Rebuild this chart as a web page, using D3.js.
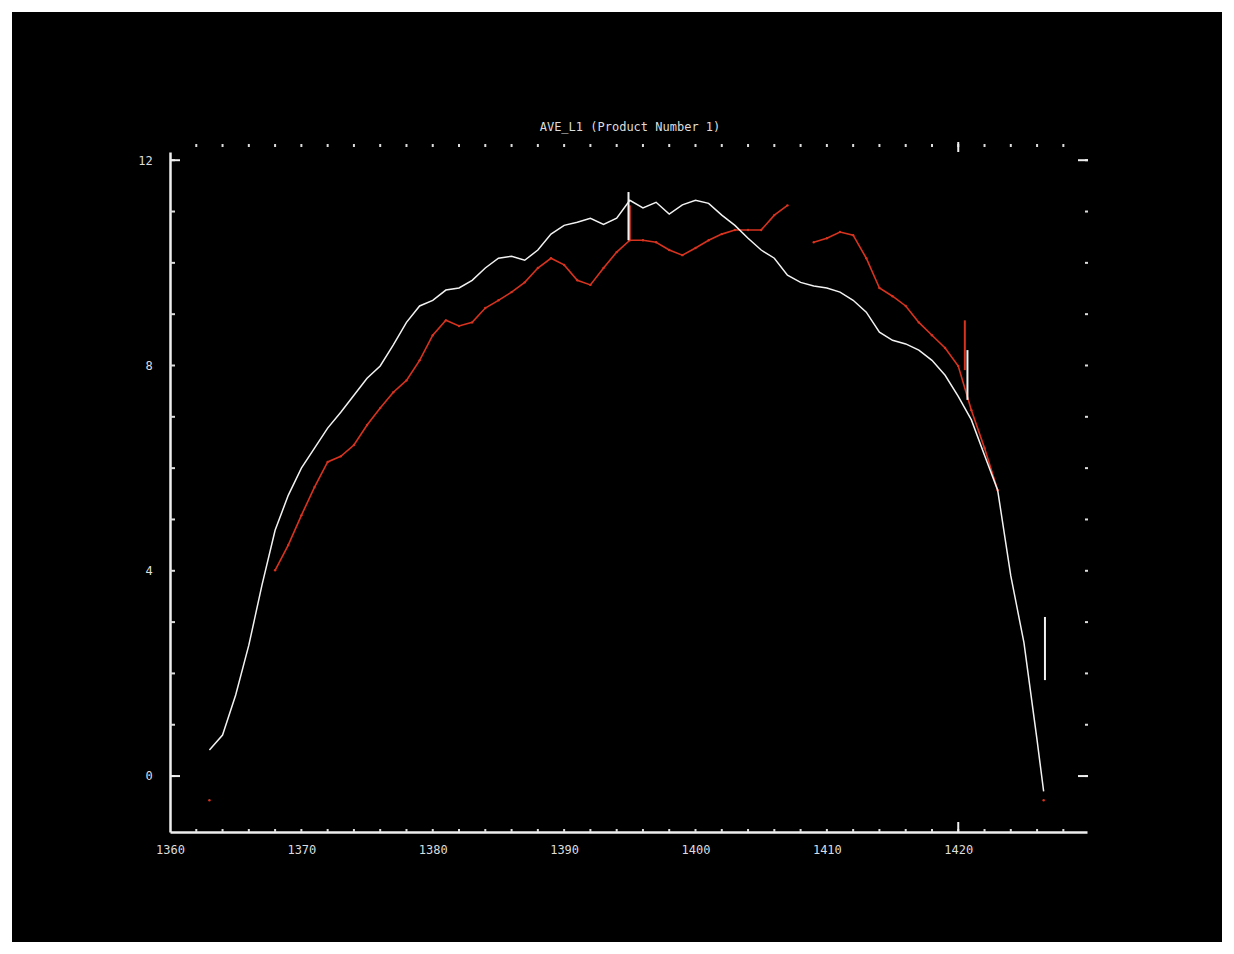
<!DOCTYPE html>
<html lang="en">
<head>
<meta charset="UTF-8">
<title>AVE_L1 (Product Number)</title>
<script src="https://d3js.org/d3.v7.min.js"></script>
<style>
  body { margin: 0; background: #fff; overflow: hidden; }
  text { font-family: "DejaVu Sans Mono", monospace; fill: #ddd; }
</style>
</head>
<body>
<div id="chart"></div>
<script>
// values
var years = [1363,1364,1365,1366,1367,1368,1369,1370,1371,1372,1373,1374,1375,1376,1377,1378,1379,
  1380,1381,1382,1383,1384,1385,1386,1387,1388,1389,1390,1391,1392,1393,1394,1395,1396,1397,1398,1399,
  1400,1401,1402,1403,1404,1405,1406,1407,1408,1409,1410,1411,1412,1413,1414,1415,1416,1417,1418,1419,
  1420,1421,1422,1423,1424,1425,1426,1426.5];
var white = [0.51,0.80,1.58,2.55,3.72,4.79,5.47,6.00,6.39,6.78,7.09,7.42,7.75,7.99,8.40,8.84,9.16,
  9.27,9.47,9.51,9.66,9.90,10.09,10.13,10.05,10.25,10.56,10.73,10.79,10.87,10.75,10.87,11.22,11.07,11.18,10.95,11.13,
  11.22,11.16,10.93,10.73,10.48,10.25,10.09,9.76,9.62,9.55,9.51,9.43,9.27,9.04,8.65,8.49,8.42,8.30,8.10,7.81,
  7.40,6.94,6.25,5.57,3.90,2.60,0.70,-0.30];
var red = [-0.47,null,null,null,null,4.01,4.50,5.08,5.63,6.12,6.23,6.45,6.84,7.17,7.48,7.71,8.10,
  8.59,8.88,8.77,8.84,9.12,9.27,9.43,9.62,9.90,10.09,9.96,9.66,9.57,9.90,10.21,10.44,10.44,10.40,10.25,10.15,
  10.29,10.44,10.56,10.64,10.64,10.64,10.93,11.12,null,10.40,10.48,10.60,10.54,10.09,9.51,9.35,9.16,8.84,8.59,8.34,
  7.99,7.13,6.39,5.57,null,null,null,-0.47];

// short vertical spikes: [year, from, to]
var whiteSpikes = [[1394.9, 11.38, 10.44], [1420.7, 8.30, 7.33], [1426.6, 3.10, 1.87]];
var redSpikes = [[1395.0, 11.12, 10.44], [1420.5, 8.88, 7.91]];

var xTicks = [1360,1370,1380,1390,1400,1410,1420];
var yTicks = [0,4,8,12];
var title = "AVE_L1  (Product Number 1)";

var W = 1234, H = 954;
var svg = d3.select("#chart").append("svg")
    .attr("width", W).attr("height", H);

svg.append("rect")
    .attr("x", 12).attr("y", 12)
    .attr("width", 1210).attr("height", 930)
    .attr("fill", "#000");

var x = d3.scaleLinear().domain([1360, 1429.8]).range([170, 1087]);
var y = d3.scaleLinear().domain([-1.09, 12.16]).range([832, 152]);

// axes
var g = svg.append("g");
var bottom = g.append("g").attr("transform", "translate(0,832)")
    .call(d3.axisBottom(x).tickValues(xTicks).tickSize(0).tickFormat(d3.format("d")));
var left = g.append("g").attr("transform", "translate(170,0)")
    .call(d3.axisLeft(y).tickValues(yTicks).tickSize(0).tickFormat(d3.format("d")));
[bottom, left].forEach(function (a) {
  a.select(".domain").attr("stroke", "#eee").attr("stroke-width", 2.5);
  a.selectAll("text").attr("fill", "#ddd").style("font-size", "12px");
});
bottom.selectAll("text").attr("dy", "1.6em");
left.selectAll("text").attr("dx", "-1.2em");

// minor ticks
var minorX = d3.range(1362, 1430, 2);
var minorY = d3.range(0, 12.1, 1);
g.selectAll(".mxb").data(minorX).enter().append("line")
    .attr("x1", x).attr("x2", x).attr("y1", 832).attr("y2", 829)
    .attr("stroke", "#ddd").attr("stroke-width", 2);
g.selectAll(".mxt").data(minorX).enter().append("line")
    .attr("x1", x).attr("x2", x).attr("y1", 144).attr("y2", 147)
    .attr("stroke", "#ddd").attr("stroke-width", 2);
g.selectAll(".myl").data(minorY).enter().append("line")
    .attr("x1", 170).attr("x2", 175).attr("y1", y).attr("y2", y)
    .attr("stroke", "#ddd").attr("stroke-width", 2);
g.selectAll(".myr").data(minorY).enter().append("line")
    .attr("x1", 1085).attr("x2", 1088).attr("y1", y).attr("y2", y)
    .attr("stroke", "#ddd").attr("stroke-width", 2);
// major ticks
[0, 12].forEach(function (v) {
  g.append("line").attr("x1", 170).attr("x2", 180).attr("y1", y(v)).attr("y2", y(v))
      .attr("stroke", "#eee").attr("stroke-width", 2);
  g.append("line").attr("x1", 1078).attr("x2", 1088).attr("y1", y(v)).attr("y2", y(v))
      .attr("stroke", "#eee").attr("stroke-width", 2);
});
g.append("line").attr("x1", x(1420)).attr("x2", x(1420)).attr("y1", 832).attr("y2", 822)
    .attr("stroke", "#eee").attr("stroke-width", 2);
g.append("line").attr("x1", x(1420)).attr("x2", x(1420)).attr("y1", 142).attr("y2", 152)
    .attr("stroke", "#eee").attr("stroke-width", 2);

svg.append("text")
    .attr("x", 630).attr("y", 131)
    .attr("text-anchor", "middle")
    .style("font-size", "12px")
    .text(title);

// series
var line = d3.line()
    .defined(function (d) { return d[1] !== null; })
    .x(function (d) { return x(d[0]); })
    .y(function (d) { return y(d[1]); });

var redPts = years.map(function (yr, i) { return [yr, red[i]]; });
var whitePts = years.map(function (yr, i) { return [yr, white[i]]; });

svg.append("path").datum(redPts)
    .attr("d", line).attr("fill", "none")
    .attr("stroke", "#d8331f").attr("stroke-width", 1.6);
svg.selectAll(".rdot").data(redPts.filter(function (d) { return d[1] !== null; }))
  .enter().append("circle")
    .attr("cx", function (d) { return x(d[0]); })
    .attr("cy", function (d) { return y(d[1]); })
    .attr("r", 1.2).attr("fill", "#d8331f");

svg.append("path").datum(whitePts)
    .attr("d", line).attr("fill", "none")
    .attr("stroke", "#f2f2f2").attr("stroke-width", 1.5);

svg.selectAll(".rsp").data(redSpikes).enter().append("line")
    .attr("x1", function (d) { return x(d[0]); }).attr("x2", function (d) { return x(d[0]); })
    .attr("y1", function (d) { return y(d[1]); }).attr("y2", function (d) { return y(d[2]); })
    .attr("stroke", "#d8331f").attr("stroke-width", 2);
svg.selectAll(".wsp").data(whiteSpikes).enter().append("line")
    .attr("x1", function (d) { return x(d[0]); }).attr("x2", function (d) { return x(d[0]); })
    .attr("y1", function (d) { return y(d[1]); }).attr("y2", function (d) { return y(d[2]); })
    .attr("stroke", "#f2f2f2").attr("stroke-width", 2);
</script>
</body>
</html>
